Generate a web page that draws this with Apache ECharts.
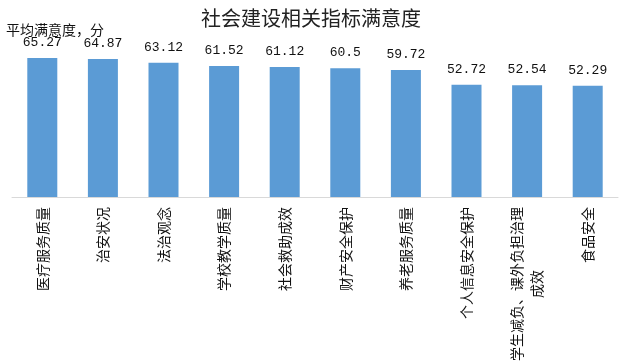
<!DOCTYPE html>
<html>
<head>
<meta charset="utf-8">
<script src="https://cdn.jsdelivr.net/npm/echarts@6/dist/echarts.min.js"></script>
<style>html,body{margin:0;padding:0;background:#fff;}#c{width:622px;height:364px;}</style>
</head>
<body>
<div id="c"></div>
<script>
var categories = ['医疗服务质量','治安状况','法治观念','学校教学质量','社会救助成效','财产安全保护','养老服务质量','个人信息安全保护','学生减负、课外负担治理成效','食品安全'];
var values = [65.27, 64.87, 63.12, 61.52, 61.12, 60.5, 59.72, 52.72, 52.54, 52.29];
var titleText = '社会建设相关指标满意度';
var yName = '平均满意度，分';

var chart = echarts.init(document.getElementById('c'));
chart.setOption({
  animation: false,
  title: [
    {text: titleText, left: 'center', top: 3, textStyle: {fontFamily: 'Noto Sans CJK SC', fontSize: 20, fontWeight: 'normal', color: '#222'}},
    {text: yName, left: 1, top: 18, textStyle: {fontFamily: 'Noto Sans CJK SC', fontSize: 14, fontWeight: 'normal', color: '#111'}}
  ],
  grid: {left: 12, right: 4, top: 48, bottom: 166},
  xAxis: {
    type: 'category',
    data: categories,
    axisLine: {lineStyle: {color: '#D9D9D9', width: 1}},
    axisTick: {show: false},
    axisLabel: {
      interval: 0,
      rotate: 90,
      margin: 10,
      fontFamily: 'Noto Sans CJK SC',
      fontSize: 14,
      color: '#111',
      formatter: function (v) {
        if (v === '学生减负、课外负担治理成效') {
          return '{c|学生减负、课外负担治理}\n{c|成效}';
        }
        return v;
      },
      rich: {c: {align: 'center', fontFamily: 'Noto Sans CJK SC', fontSize: 14, color: '#111', lineHeight: 20}}
    }
  },
  yAxis: {
    type: 'value', min: 0, max: 70, show: false
  },
  series: [{
    type: 'bar',
    data: values,
    barWidth: 30,
    itemStyle: {color: '#5B9BD5'},
    label: {
      show: true, position: 'top', distance: 9,
      fontFamily: 'Liberation Mono', fontSize: 13, color: '#111'
    }
  }]
});
</script>
</body>
</html>
